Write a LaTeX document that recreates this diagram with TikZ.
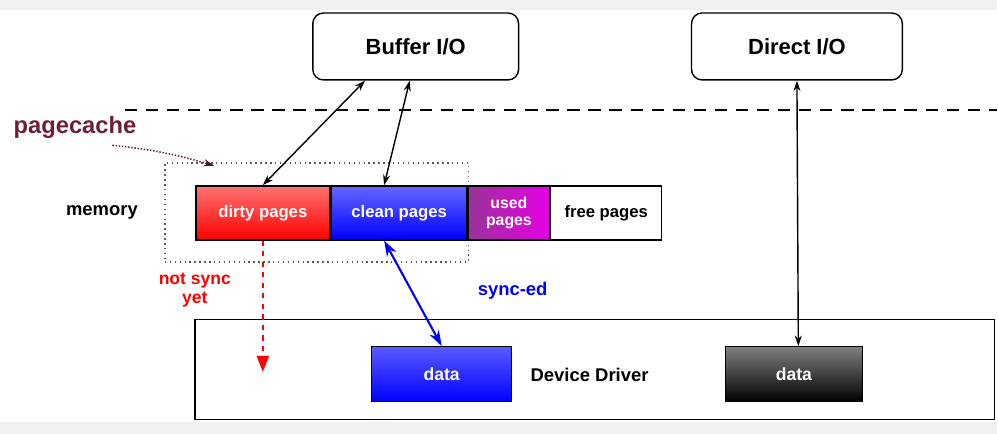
\documentclass[tikz,border=0pt]{standalone}
\usepackage{fontspec}
\setmainfont{Liberation Sans}
\usetikzlibrary{positioning,arrows.meta}

\definecolor{cachered}{RGB}{110,30,60}

\begin{document}
\begin{tikzpicture}[x=0.02cm, y=-0.02cm, >={Stealth[length=6pt,width=4pt]},
  iobox/.style={draw, thick, rounded corners=6pt, fill=white, minimum height=1.34cm, font=\bfseries\fontsize{12.5}{14}\selectfont},
  pagebox/.style={draw, thick, minimum height=1.08cm, inner sep=1pt, align=center, text=white, font=\bfseries\fontsize{9.5}{10.5}\selectfont},
  databox/.style={draw, thick, minimum width=2.8cm, minimum height=1.1cm, text=white, font=\bfseries\fontsize{10}{12}\selectfont}]
  \fill[gray!12] (0,0) rectangle (998,434);
  \fill[white] (0,10) rectangle (998,422);

  \node[iobox, minimum width=4.12cm] (buffer) at (416,46.5) {Buffer I/O};
  \node[iobox, minimum width=4.22cm] (direct) at (797.5,46.5) {Direct I/O};
  \draw[dashed, thick, dash pattern=on 7pt off 5pt] (125,110) -- (998,110);

  % page cache
  \node[draw, dotted, thick, gray!70!black, minimum width=6.08cm, minimum height=1.98cm] (cache) at (317,212.5) {};
  \node[text=cachered, font=\bfseries\fontsize{13.5}{15}\selectfont] (pagecache) at (75,128) {pagecache};
  \draw[->, densely dotted, thick, cachered!70!black] ([xshift=-0.6cm]pagecache.south east) to[bend left=5] ([xshift=1.0cm,yshift=-2pt]cache.north west);

  \node[font=\bfseries\fontsize{10.5}{12}\selectfont] (memory) at (102,213) {memory};
  \node[pagebox, minimum width=2.68cm, top color=red!55!white, bottom color=red] (dirty) at (263,213) {dirty pages};
  \node[pagebox, minimum width=2.72cm, right=0pt of dirty, top color=blue!60!white, bottom color=blue] (clean) {clean pages};
  \node[pagebox, minimum width=1.62cm, right=0pt of clean, left color=violet!80!white, right color=magenta!80!violet, font=\bfseries\fontsize{9}{10}\selectfont] (used) {used\\pages};
  \node[pagebox, minimum width=2.22cm, right=0pt of used, fill=white, text=black] (free) {free pages};

  % device side
  \node[draw, thick, minimum width=16cm, minimum height=2cm] (driver) at (595,370) {};
  \node[font=\bfseries\fontsize{10.5}{12}\selectfont] (drvlabel) at (590,375) {Device Driver};
  \node[databox, top color=blue!65!white, bottom color=blue] (data1) at (442,374.5) {data};
  \node[databox, minimum width=2.74cm, top color=gray, bottom color=black] (data2) at (794.5,374.5) {data};
  \coordinate (lost) at (263,372);

  \draw[<->, thick] ([xshift=1.06cm]buffer.south west) -- (dirty.north);
  \draw[<->, thick] ([xshift=-0.12cm]buffer.south) -- ([xshift=-0.3cm]clean.north);
  \draw[<->, thick] (direct.south) -- ([xshift=2.5pt]data2.north);
  \draw[<->, very thick, blue, >={Stealth[length=9pt,width=6pt]}] ([xshift=-0.3cm]clean.south) -- (data1.north);
  \draw[-{Triangle[length=9pt,width=7pt]}, red, thick, dashed] (dirty.south) -- (lost);

  \node[red, align=center, font=\bfseries\fontsize{10}{11}\selectfont] (notsync) at (195,290) {not sync\\yet};
  \node[blue, font=\bfseries\fontsize{10.5}{12}\selectfont] (synced) at (513,291) {sync-ed};
\end{tikzpicture}
\end{document}
